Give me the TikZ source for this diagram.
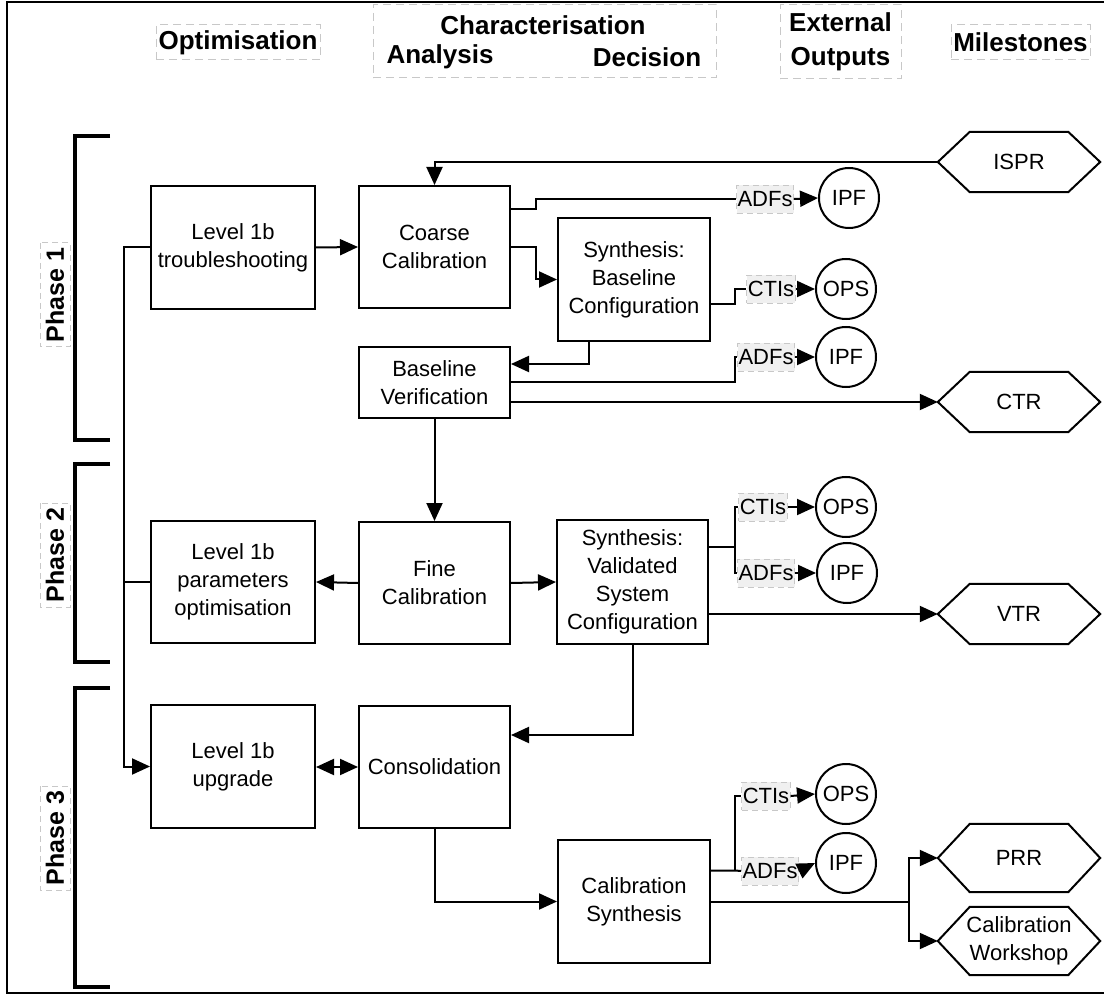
\documentclass[tikz,border=0pt]{standalone}
\usepackage{fontspec}
\setmainfont{Liberation Sans}
\usetikzlibrary{arrows.meta}
\definecolor{lgray}{HTML}{C8C8C8}
\definecolor{lfill}{HTML}{F0F0F0}
\begin{document}
\begin{tikzpicture}[x=1pt,y=-1pt,
  base/.style={font=\fontsize{22}{28}\selectfont},
  box/.style={draw, line width=2pt, rectangle, inner sep=0pt, align=center, base},
  circ/.style={draw, circle, line width=2pt, minimum size=60pt, inner sep=0pt, base},
  tag/.style={draw=lgray, dashed, dash pattern=on 6pt off 4pt, fill=lfill, line width=0.8pt,
              inner sep=1pt, minimum height=28pt, base},
  hexa/.style={rectangle, inner sep=0pt, minimum width=162pt, align=center, base},
  conn/.style={line width=2pt},
  arr/.style={conn, -{Triangle[length=18pt,width=16pt]}},
  darr/.style={conn, {Triangle[length=18pt,width=16pt]}-{Triangle[length=18pt,width=16pt]}},
  hdrbox/.style={draw=lgray, dashed, dash pattern=on 8pt off 5pt, line width=1pt, inner sep=0pt},
  hdr/.style={font=\fontsize{26}{34}\selectfont\bfseries, align=center, inner sep=0pt},
  phase/.style={draw=lgray, dashed, dash pattern=on 6pt off 4pt, line width=1pt, rotate=90,
                minimum width=104pt, minimum height=30pt, inner sep=0pt,
                font=\fontsize{25}{30}\selectfont\bfseries},
  bracket/.style={line width=4.5pt},
]
\useasboundingbox (0,0) rectangle (1104,1000);

% outer frame
\draw[line width=2.5pt] (1104,2) -- (7,2) -- (7,993) -- (1104,993);

% column headers
\node[hdrbox, hdr, minimum width=164pt, minimum height=35pt] (hopt) at (238,42.5) {Optimisation};
\node[hdrbox, minimum width=343pt, minimum height=73pt] (hchar) at (544.5,41.5) {};
\node[hdr] (hcharT) at (543,25) {Characterisation};
\node[hdr] (hana) at (440,57) {Analysis};
\node[hdr] (hdec) at (647,57) {Decision};
\node[hdrbox, hdr, minimum width=121pt, minimum height=74pt] (hext) at (840.5,42) {External\\Outputs};
\node[hdrbox, hdr, minimum width=139pt, minimum height=35pt] (hmil) at (1020.5,42.5) {Milestones};

% phase brackets
\draw[bracket] (110,136) -- (75,136) -- (75,440) -- (110,440);
\draw[bracket] (110,464) -- (75,464) -- (75,662) -- (110,662);
\draw[bracket] (110,688) -- (75,688) -- (75,987) -- (110,987);
\node[phase, fill=white] (ph1) at (55,295) {Phase 1};
\node[phase, fill=white] (ph2) at (55,555) {Phase 2};
\node[phase, fill=white] (ph3) at (55,838) {Phase 3};

% process boxes
\node[box, minimum width=164pt, minimum height=123pt] (l1t) at (233,247.5) {Level 1b\\troubleshooting};
\node[box, minimum width=151pt, minimum height=122pt] (coarse) at (434.5,247) {Coarse\\Calibration};
\node[box, minimum width=152pt, minimum height=123pt] (synb) at (634,279.5) {Synthesis:\\Baseline\\Configuration};
\node[box, minimum width=151pt, minimum height=71pt] (bv) at (434.5,382.5) {Baseline\\Verification};
\node[box, minimum width=164pt, minimum height=122pt] (l1p) at (233,582) {Level 1b\\parameters\\optimisation};
\node[box, minimum width=151pt, minimum height=122pt] (fine) at (434.5,583) {Fine\\Calibration};
\node[box, minimum width=151pt, minimum height=124pt] (synv) at (632.5,582) {Synthesis:\\Validated\\System\\Configuration};
\node[box, minimum width=164pt, minimum height=123pt] (l1u) at (233,766.5) {Level 1b\\upgrade};
\node[box, minimum width=151pt, minimum height=122pt] (cons) at (434.5,767) {Consolidation};
\node[box, minimum width=152pt, minimum height=123pt] (cals) at (634,901.5) {Calibration\\Synthesis};

% external outputs
\node[circ] (ipf1) at (849,198) {IPF};
\node[circ] (ops1) at (846,289) {OPS};
\node[circ] (ipf2) at (846,357) {IPF};
\node[circ] (ops2) at (846,507) {OPS};
\node[circ] (ipf3) at (847,573) {IPF};
\node[circ] (ops3) at (846,794) {OPS};
\node[circ] (ipf4) at (846,863) {IPF};

\node[tag] (adf1) at (765,199) {ADFs};
\node[tag] (cti1) at (771,289) {CTIs};
\node[tag] (adf2) at (766,357) {ADFs};
\node[tag] (cti2) at (763,507) {CTIs};
\node[tag] (adf3) at (766,573) {ADFs};
\node[tag] (cti3) at (766,796) {CTIs};
\node[tag] (adf4) at (770,871) {ADFs};

% milestones
\node[hexa, minimum height=60pt] (ispr) at (1019,162) {ISPR};
\node[hexa, minimum height=60pt] (ctr) at (1019,402) {CTR};
\node[hexa, minimum height=60pt] (vtr) at (1019,614) {VTR};
\node[hexa, minimum height=68pt] (prr) at (1019,858) {PRR};
\node[hexa, minimum height=68pt] (cws) at (1019,941) {Calibration\\Workshop};
\foreach \h in {ispr,ctr,vtr,prr,cws}
  \draw[line width=2pt, line join=miter]
    (\h.west) -- ([xshift=32pt]\h.north west) -- ([xshift=-32pt]\h.north east)
    -- (\h.east) -- ([xshift=-32pt]\h.south east) -- ([xshift=32pt]\h.south west) -- cycle;

% optimisation bus
\coordinate (bus) at (124,0);
\draw[arr] (l1t.west) -- (l1t.west -| bus) |- (l1u.west);
\draw[conn] (l1p.west) -- (l1p.west -| bus);

% phase 1 flow
\draw[arr] (l1t.east) -- (coarse.west);
\draw[arr] (ispr.west) -| (coarse.north);
\draw[conn] ([yshift=38pt]coarse.east) -- ++(25,0) |- (adf1.west);
\draw[arr] (adf1.east) -- (ipf1.west);
\draw[arr] (coarse.east) -- ++(25,0) |- (synb.west);
\draw[conn] ([yshift=-25pt]synb.east) -- ++(24,0) |- (cti1.west);
\draw[arr] (cti1.east) -- (ops1.west);
\draw[arr] ([xshift=-45pt]synb.south) |- ([yshift=18.5pt]bv.east);
\draw[conn] (bv.east) -- ++(224,0) |- (adf2.west);
\draw[arr] (adf2.east) -- (ipf2.west);
\draw[arr] (ctr.west -| bv.east) -- (ctr.west);

% phase 2 flow
\draw[arr] (bv.south) -- (fine.north);
\draw[arr] (fine.west) -- (l1p.east);
\draw[arr] (fine.east) -- (synv.west);
\draw[conn] ([yshift=35pt]synv.east) -- ++(26,0) coordinate (j2);
\draw[conn] (cti2.west) -| (j2) |- (adf3.west);
\draw[arr] (cti2.east) -- (ops2.west);
\draw[arr] (adf3.east) -- (ipf3.west);
\draw[arr] (vtr.west -| synv.east) -- (vtr.west);
\draw[arr] (synv.south) |- ([yshift=32pt]cons.east);

% phase 3 flow
\draw[darr] (l1u.east |- cons.east) -- (cons.west);
\draw[arr] (cons.south) |- (cals.west);
\draw[conn] ([yshift=31pt]cals.east) -- ++(24,0) coordinate (j3) -- (adf4.west);
\draw[conn] (j3) |- (cti3.west);
\draw[arr] (cti3.east) -- (ops3.west);
\draw[arr] (adf4.east) -- (ipf4.west);
\draw[conn] (cals.east) -- ++(198,0) coordinate (j4);
\draw[arr] (j4) |- (prr.west);
\draw[arr] (j4) |- (cws.west);
\end{tikzpicture}
\end{document}
